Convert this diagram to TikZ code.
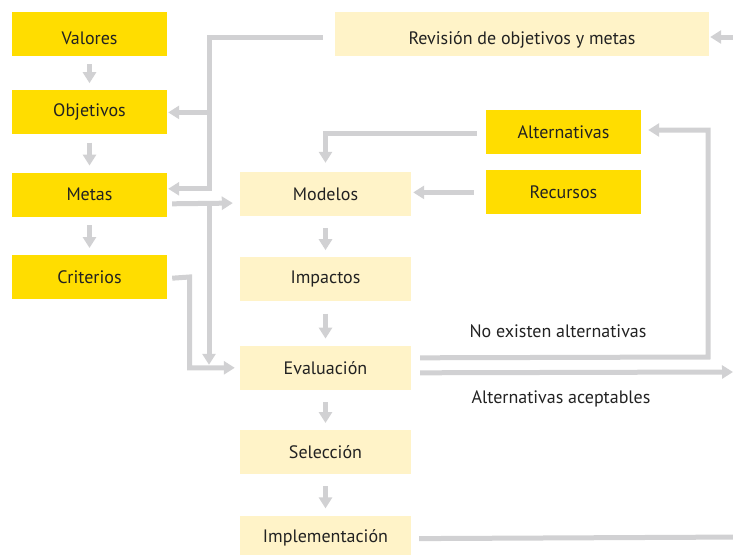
\documentclass[tikz,border=0pt]{standalone}
\usepackage{fontspec}
\setmainfont{PT Sans}
\usetikzlibrary{positioning, arrows.meta}
\definecolor{amarillo}{HTML}{FFDD00}
\definecolor{crema}{HTML}{FFF3C8}
\definecolor{gris}{HTML}{D1D1D3}
\definecolor{texto}{HTML}{222222}

\begin{document}
\begin{tikzpicture}[
	x=1pt, y=1pt,
	node distance = 38pt and 30pt,
	>={Triangle[width=13pt,length=11pt]},
	box/.style = {rectangle, fill=#1, text=texto, font=\fontsize{18}{21}\selectfont,
		minimum width=155pt, minimum height=44pt, inner sep=0pt},
	wide/.style = {minimum width=171pt},
	low/.style = {text height=20pt, text depth=0pt},
	link/.style = {draw=gris, line width=5pt},
	flow/.style = {link, ->, shorten <=8pt, shorten >=7pt},
	note/.style = {text=texto, font=\fontsize{18}{21}\selectfont}
	]
	\useasboundingbox (0,0) rectangle (733,-554);
	
	\node (valores) [box=amarillo,low] at (89.5,-34) {Valores};
	\node (objetivos) [box=amarillo,below=34pt of valores] {Objetivos};
	\node (metas) [box=amarillo,below=of objetivos] {Metas};
	\node (criterios) [box=amarillo,below=of metas] {Criterios};
	\node (revision) [box=crema,low,minimum width=374pt] at (522,-34) {Revisión de objetivos y metas};
	\node (alternativas) [box=amarillo] at (563.5,-132) {Alternativas};
	\node (recursos) [box=amarillo,below=16pt of alternativas] {Recursos};
	\node (modelos) [box=crema,wide] at (325.5,-194) {Modelos};
	\node (impactos) [box=crema,wide,below=41pt of modelos] {Impactos};
	\node (evaluacion) [box=crema,wide,below=44pt of impactos] {Evaluación};
	\node (seleccion) [box=crema,wide,below=40pt of evaluacion] {Selección};
	\node (implementacion) [box=crema,wide,below=41pt of seleccion] {Implementación};
	\node (noalt) [note] at (558,-331) {No existen alternativas};
	\node (acept) [note] at (561,-399) {Alternativas aceptables};
	%
	\draw[flow] (valores) -- (objetivos);
	\draw[flow] (objetivos) -- (metas);
	\draw[flow] (metas) -- (criterios);
	\draw[flow, shorten <=12pt] (modelos) -- (impactos);
	\draw[flow, shorten <=12pt] (impactos) -- (evaluacion);
	\draw[flow, shorten <=12pt] (evaluacion) -- (seleccion);
	\draw[flow, shorten <=12pt] (seleccion) -- (implementacion);
	%
	\coordinate (bus) at (209,-37);
	\draw[link, ->, shorten >=1pt] ([xshift=-12pt,yshift=-3pt]revision.west) -- (bus) |- ([yshift=6pt]metas.east);
	\draw[link, ->, shorten >=1pt] (bus |- objetivos.east) -- (objetivos.east);
	\coordinate (split) at (209,-203);
	\draw[link, ->, shorten >=7pt] ([xshift=5pt,yshift=-9pt]metas.east) -- (split -| modelos.west);
	\draw[link, ->, shorten >=3pt] (split) -- (split |- evaluacion.west);
	\coordinate (crit) at (189.5,-277);
	\draw[link, ->, shorten >=5pt] ([xshift=5pt,yshift=-1pt]criterios.east) -- (crit) |- (evaluacion.west);
	\draw[link, ->, shorten >=9pt] ([xshift=-9pt,yshift=-1pt]alternativas.west) -| (modelos.north);
	\draw[link, ->, shorten >=2pt] ([xshift=-12pt]recursos.west) -- (recursos.west -| modelos.east);
	%
	\coordinate (loop) at (708,-357);
	\draw[link, ->, shorten >=7pt] ([xshift=9pt,yshift=10pt]evaluacion.east) -- (loop) |- ([yshift=2pt]alternativas.east);
	\coordinate (accept) at (733,-372);
	\draw[link, ->] ([xshift=9pt,yshift=-5pt]evaluacion.east) -- (accept);
	\coordinate (implOut) at (745,-537);
	\draw[link] ([xshift=8pt,yshift=-1pt]implementacion.east) -- (implOut);
	\coordinate (review) at (745,-37);
	\draw[link, ->] (review) -- ([xshift=1pt,yshift=-3pt]revision.east);
\end{tikzpicture}
\end{document}
